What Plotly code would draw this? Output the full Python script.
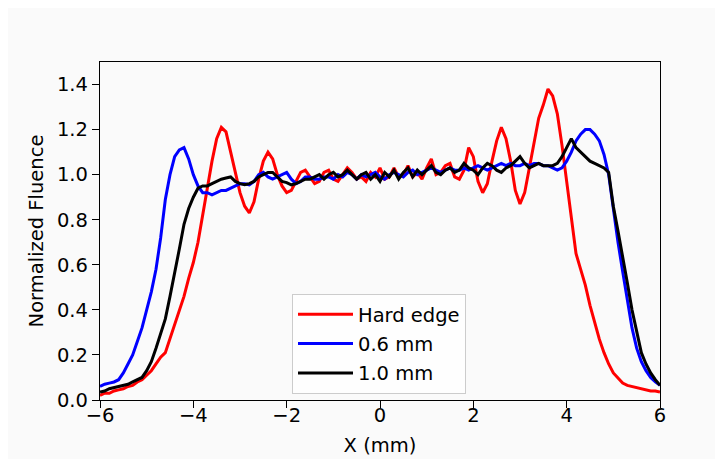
import plotly.graph_objects as go

x_mm = [round(-6 + 0.1 * i, 1) for i in range(121)]

hard_edge = [
    0.02, 0.03, 0.03, 0.04, 0.045, 0.05, 0.06, 0.065, 0.08, 0.09,
    0.11, 0.13, 0.16, 0.19, 0.21, 0.27, 0.33, 0.40, 0.46, 0.54,
    0.61, 0.70, 0.82, 0.95, 1.06, 1.16, 1.21, 1.19, 1.10, 1.01,
    0.92, 0.86, 0.83, 0.88, 0.98, 1.06, 1.10, 1.07, 1.00, 0.95,
    0.92, 0.93, 0.97, 1.01, 1.02, 0.99, 0.96, 0.97, 1.01, 1.02,
    0.98, 0.97, 1.00, 1.03, 1.01, 0.98, 0.99, 0.97, 1.01, 0.99,
    1.03, 0.98, 0.99, 1.03, 0.99, 1.00, 1.04, 0.99, 1.01, 0.98,
    1.03, 1.07, 1.00, 1.01, 1.04, 1.05, 0.99, 0.98, 1.02, 1.12,
    1.08, 0.97, 0.92, 0.96, 1.06, 1.15, 1.21, 1.16, 1.06, 0.93,
    0.87, 0.92, 1.03, 1.14, 1.25, 1.31, 1.38, 1.35, 1.27, 1.13,
    0.97, 0.80, 0.65, 0.58, 0.51, 0.42, 0.34, 0.27, 0.21, 0.16,
    0.12, 0.095, 0.075, 0.065, 0.06, 0.055, 0.05, 0.045, 0.04, 0.04,
    0.035,
]

mm_06 = [
    0.06, 0.07, 0.075, 0.08, 0.09, 0.12, 0.16, 0.20, 0.26, 0.32,
    0.40, 0.48, 0.58, 0.72, 0.89, 1.00, 1.08, 1.11, 1.12, 1.07,
    1.00, 0.95, 0.92, 0.92, 0.91, 0.92, 0.93, 0.93, 0.94, 0.95,
    0.96, 0.96, 0.955, 0.97, 1.00, 1.01, 0.99, 0.98, 0.99, 1.00,
    1.01, 0.98, 0.96, 0.97, 0.99, 0.99, 0.98, 0.98, 0.99, 0.99,
    0.98, 1.00, 0.99, 1.01, 1.00, 0.98, 1.00, 0.99, 1.00, 1.01,
    0.99, 0.98, 1.00, 1.01, 1.00, 0.99, 1.01, 1.02, 1.00, 1.01,
    1.02, 1.03, 1.02, 1.01, 1.02, 1.03, 1.02, 1.02, 1.03, 1.02,
    1.03, 1.04, 1.03, 1.02, 1.03, 1.04, 1.05, 1.04, 1.05, 1.04,
    1.04, 1.05, 1.04, 1.05, 1.05, 1.04, 1.04, 1.03, 1.02, 1.03,
    1.06, 1.10, 1.15, 1.18, 1.20, 1.20, 1.18, 1.15, 1.09, 1.00,
    0.84, 0.70, 0.57, 0.44, 0.32, 0.23, 0.17, 0.13, 0.10, 0.08,
    0.065,
]

mm_10 = [
    0.035, 0.04, 0.05, 0.055, 0.06, 0.065, 0.07, 0.08, 0.09, 0.10,
    0.13, 0.17, 0.23, 0.29, 0.36, 0.46, 0.56, 0.67, 0.78, 0.85,
    0.90, 0.94, 0.95, 0.95, 0.96, 0.97, 0.98, 0.985, 0.99, 0.97,
    0.96, 0.955, 0.96, 0.97, 0.99, 1.00, 1.01, 1.01, 0.99, 0.97,
    0.965, 0.955, 0.96, 0.97, 0.98, 0.98, 0.99, 1.00, 0.98, 1.00,
    1.01, 0.99, 1.00, 1.02, 1.00, 0.98, 1.00, 1.01, 0.98, 1.00,
    0.97, 1.01, 0.99, 1.02, 0.98, 1.01, 1.03, 0.99, 1.02, 1.00,
    1.02, 1.04, 1.01, 1.00, 1.02, 1.03, 1.01, 1.02, 1.05, 1.03,
    1.02, 1.00, 1.03, 1.05, 1.04, 1.02, 1.01, 1.03, 1.04, 1.06,
    1.08, 1.05, 1.03, 1.04, 1.05, 1.04, 1.04, 1.04, 1.05, 1.08,
    1.12, 1.16, 1.12, 1.10, 1.08, 1.06, 1.05, 1.04, 1.03, 1.01,
    0.86, 0.75, 0.64, 0.52, 0.40, 0.30, 0.21, 0.16, 0.12, 0.09,
    0.065,
]

series_names = ["Hard edge", "0.6 mm", "1.0 mm"]
series_colors = ["#ff0000", "#0000ff", "#000000"]

x_tick_vals = [-6, -4, -2, 0, 2, 4, 6]
x_tick_text = ["\u22126", "\u22124", "\u22122", "0", "2", "4", "6"]
y_tick_vals = [0.0, 0.2, 0.4, 0.6, 0.8, 1.0, 1.2, 1.4]
y_tick_text = ["0.0", "0.2", "0.4", "0.6", "0.8", "1.0", "1.2", "1.4"]

FONT = "DejaVu Sans"
FS = 19.5

fig = go.Figure()
for i, (name, color, ys) in enumerate(zip(series_names, series_colors, [hard_edge, mm_06, mm_10])):
    fig.add_trace(go.Scatter(x=x_mm, y=ys, mode="lines", name=name, legendgroup="g%d" % i,
                             line=dict(color=color, width=3)))

axis_common = dict(showline=True, linecolor="black", linewidth=1.3, mirror=True,
                   ticks="outside", ticklen=7, tickwidth=1.3, tickcolor="black",
                   showgrid=False, zeroline=False, automargin=False,
                   tickfont=dict(family=FONT, size=FS, color="black"))

fig.update_xaxes(range=[-6, 6], tickvals=x_tick_vals, ticktext=x_tick_text,
                 ticklabelstandoff=-10,
                 title=dict(text="X (mm)", font=dict(family=FONT, size=FS, color="black"), standoff=12),
                 **axis_common)
fig.update_yaxes(range=[0, 1.5], tickvals=y_tick_vals, ticktext=y_tick_text,
                 title=dict(text="Normalized Fluence", font=dict(family=FONT, size=FS, color="black"), standoff=8),
                 **axis_common)

fig.update_layout(
    width=723, height=459,
    margin=dict(l=92, r=71, t=54, b=67),
    paper_bgcolor="#fafafa", plot_bgcolor="#fafafa",
    font=dict(family=FONT, size=FS, color="black"),
    legend=dict(x=(292 - 100) / 560, y=(400 - 294) / 338, xanchor="left", yanchor="top",
                bgcolor="rgba(255,255,255,0.8)", bordercolor="#cccccc", borderwidth=1,
                itemwidth=55, tracegroupgap=1,
                font=dict(family=FONT, size=FS, color="black")),
)

fig.write_html("out.html")
